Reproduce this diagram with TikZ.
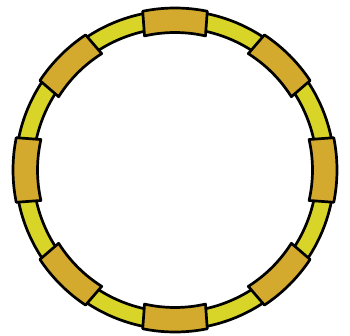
\documentclass[tikz,border=0pt]{standalone}
\definecolor{bandyellow}{RGB}{216,213,40}
\definecolor{segorange}{RGB}{212,170,46}
\begin{document}
\begin{tikzpicture}[x=1pt,y=1pt,
  ring/.style={fill=bandyellow,draw=black,line width=2.7pt,even odd rule},
  seg/.style={fill=segorange,draw=black,line width=2.7pt,line join=round}]
\useasboundingbox (0,0) rectangle (350,335);
\begin{scope}[shift={(175,165)}]
  \coordinate (c) at (0,0);
  \path[ring] (c) circle[radius=159.5] (c) circle[radius=142];
  \foreach \a in {0,45,...,315}{
    \path[seg] (\a-11.5:162) arc[start angle=\a-11.5, end angle=\a+11.5, radius=162]
      -- (\a+12.8:137.5) arc[start angle=\a+12.8, end angle=\a-12.8, radius=137.5] -- cycle;
  }
\end{scope}
\end{tikzpicture}
\end{document}
